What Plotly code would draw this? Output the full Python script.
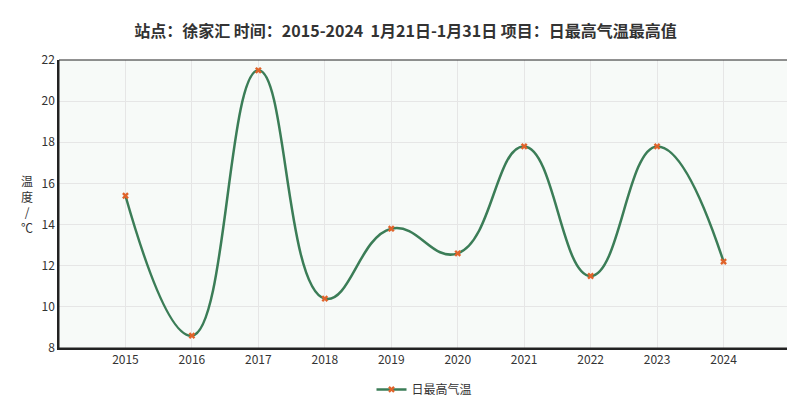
import plotly.graph_objects as go

years = ["2015","2016","2017","2018","2019","2020","2021","2022","2023","2024"]
values = [15.4, 8.6, 21.5, 10.4, 13.8, 12.6, 17.8, 11.5, 17.8, 12.2]
yticks = [8, 10, 12, 14, 16, 18, 20, 22]

idx = list(range(len(years)))
fig = go.Figure(go.Scatter(
    x=idx, y=values, mode="lines+markers", name="日最高气温",
    line=dict(color="#3b7d57", width=2.5, shape="spline", smoothing=1.3),
    marker=dict(symbol="x", size=6, color="#e0632a", line=dict(width=0)),
))
fig.update_layout(
    width=795, height=404,
    margin=dict(l=51, r=13, t=52, b=64, autoexpand=False),
    paper_bgcolor="white", plot_bgcolor="#f7faf8",
    font=dict(family="Noto Sans CJK SC", size=11, color="#333"),
    title=dict(text="<b>站点：徐家汇 时间：2015-2024  1月21日-1月31日 项目：日最高气温最高值</b>",
               x=0.5, xanchor="center", y=0.955, font=dict(size=16, color="#333")),
    showlegend=True,
    legend=dict(orientation="h", x=0.5, xanchor="center", yref="container", y=0.02, yanchor="bottom",
                font=dict(size=12)),
    xaxis=dict(range=[-1, 10], tickvals=idx, ticktext=years, showgrid=True, automargin=False,
               gridcolor="#e6e6e6", showline=True, linecolor="#222", linewidth=1.5,
               mirror=False, zeroline=False, ticks="", tickfont=dict(size=12)),
    yaxis=dict(range=[8, 22], tickvals=yticks, showgrid=True, gridcolor="#e6e6e6", automargin=False,
               showline=True, linecolor="#222", linewidth=1.5, zeroline=False, ticks="",
               tickfont=dict(size=12)),
)
fig.add_shape(type="rect", xref="paper", yref="paper", x0=0, y0=0, x1=1, y1=1,
              line=dict(color="#222", width=1))
fig.add_annotation(text="温<br>度<br>/<br>℃", xref="paper", yref="paper", x=-0.055, y=0.5,
                   showarrow=False, font=dict(size=12), align="center")
fig.write_html("out.html")
